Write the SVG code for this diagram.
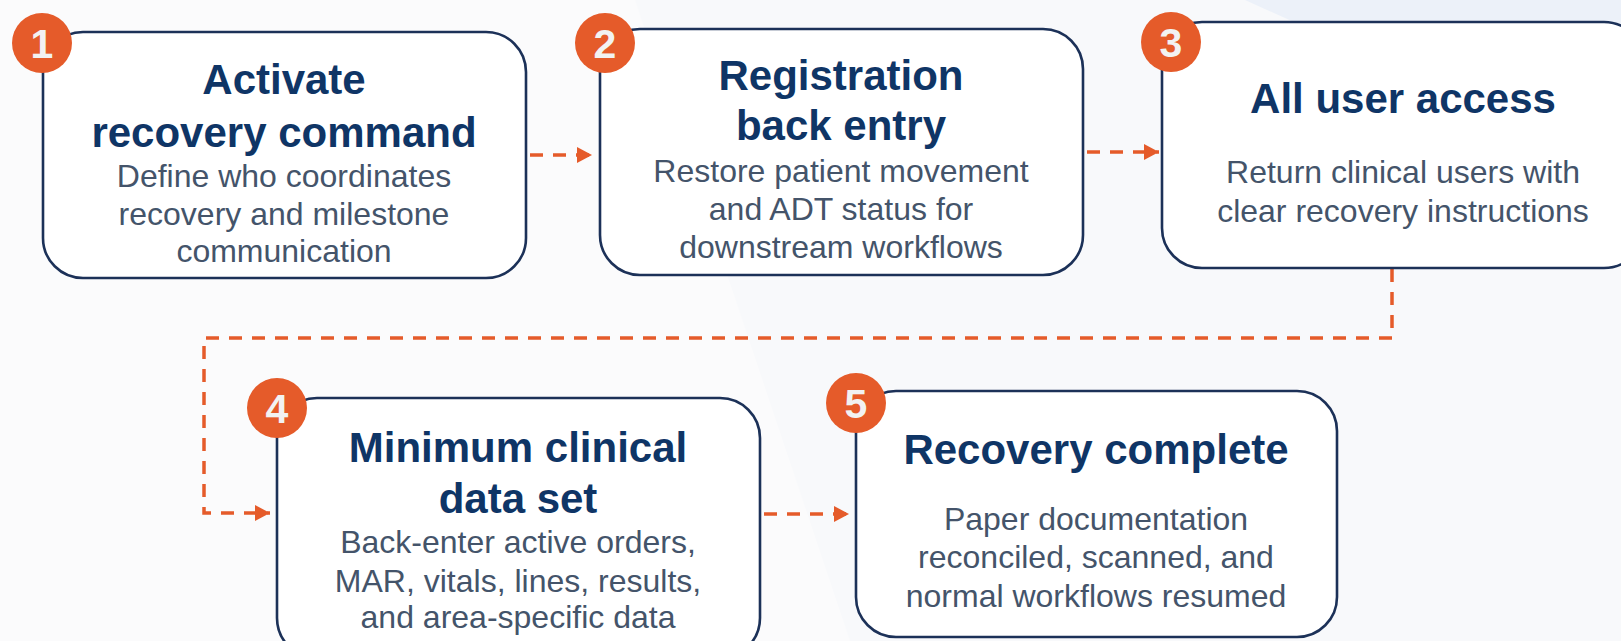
<svg xmlns="http://www.w3.org/2000/svg" width="1621" height="641" viewBox="0 0 1621 641">
<style>
.box{fill:#ffffff;stroke:#1c3158;stroke-width:2.6}
.badge{fill:#e55b2a}
.num{font-family:"Liberation Sans",Arial,sans-serif;font-weight:bold;font-size:41px;fill:#f2f2f2;text-anchor:middle}
.title{font-family:"Liberation Sans",Arial,sans-serif;font-weight:bold;font-size:42px;fill:#0f3566;text-anchor:middle}
.sub{font-family:"Liberation Sans",Arial,sans-serif;font-size:32px;fill:#44546a;text-anchor:middle}
.conn{fill:none;stroke:#e55b2a;stroke-width:3.5;stroke-dasharray:13 10}
</style>
<defs>
<marker id="arrow" markerUnits="userSpaceOnUse" markerWidth="16" markerHeight="16" refX="15" refY="8" orient="auto">
<path d="M0,0 L15,8 L0,16 z" fill="#e55b2a"/>
</marker>
</defs>
<rect width="1621" height="641" fill="#f8f9fb"/>
<polygon points="0,0 635,0 850,641 0,641" fill="#fbfbfc"/>
<polygon points="1245,0 1621,0 1621,120 1512,120" fill="#ecf1f9"/>

<g id="connectors">
<line class="conn" x1="530" y1="155" x2="592" y2="155" marker-end="url(#arrow)"/>
<line class="conn" x1="1087" y1="152" x2="1159" y2="152" marker-end="url(#arrow)"/>
<path class="conn" d="M1392,269 V338 H204 V513 H270" marker-end="url(#arrow)"/>
<line class="conn" x1="764" y1="514" x2="849" y2="514" marker-end="url(#arrow)"/>
</g>

<g id="node1">
<rect class="box" x="43" y="32" width="483" height="246" rx="40"/>
<circle class="badge" cx="42" cy="43" r="30"/>
<text class="num" x="42" y="58">1</text>
<text class="title" x="284" y="94">Activate</text>
<text class="title" x="284" y="147">recovery command</text>
<text class="sub" x="284" y="187">Define who coordinates</text>
<text class="sub" x="284" y="225">recovery and milestone</text>
<text class="sub" x="284" y="262">communication</text>
</g>

<g id="node2">
<rect class="box" x="600" y="29" width="483" height="246" rx="40"/>
<circle class="badge" cx="605" cy="43" r="30"/>
<text class="num" x="605" y="58">2</text>
<text class="title" x="841" y="90">Registration</text>
<text class="title" x="841" y="140">back entry</text>
<text class="sub" x="841" y="182">Restore patient movement</text>
<text class="sub" x="841" y="220">and ADT status for</text>
<text class="sub" x="841" y="258">downstream workflows</text>
</g>

<g id="node3">
<rect class="box" x="1162" y="22" width="482" height="246" rx="40"/>
<circle class="badge" cx="1171" cy="42" r="30"/>
<text class="num" x="1171" y="57">3</text>
<text class="title" x="1403" y="113">All user access</text>
<text class="sub" x="1403" y="183">Return clinical users with</text>
<text class="sub" x="1403" y="222">clear recovery instructions</text>
</g>

<g id="node4">
<rect class="box" x="277" y="398" width="483" height="260" rx="40"/>
<circle class="badge" cx="277" cy="408" r="30"/>
<text class="num" x="277" y="423">4</text>
<text class="title" x="518" y="462">Minimum clinical</text>
<text class="title" x="518" y="513">data set</text>
<text class="sub" x="518" y="553">Back-enter active orders,</text>
<text class="sub" x="518" y="592">MAR, vitals, lines, results,</text>
<text class="sub" x="518" y="628">and area-specific data</text>
</g>

<g id="node5">
<rect class="box" x="856" y="391" width="481" height="246" rx="40"/>
<circle class="badge" cx="856" cy="403" r="30"/>
<text class="num" x="856" y="418">5</text>
<text class="title" x="1096" y="464">Recovery complete</text>
<text class="sub" x="1096" y="530">Paper documentation</text>
<text class="sub" x="1096" y="568">reconciled, scanned, and</text>
<text class="sub" x="1096" y="607">normal workflows resumed</text>
</g>
</svg>
